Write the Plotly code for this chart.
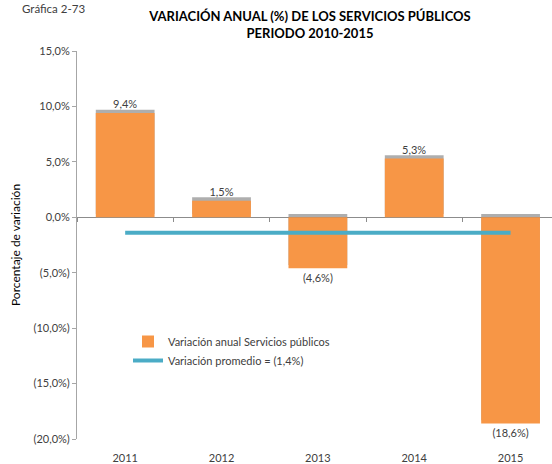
import plotly.graph_objects as go

# Annual variation of public utilities, 2011-2015
years = ["2011", "2012", "2013", "2014", "2015"]
variation = [9.4, 1.5, -4.6, 5.3, -18.6]
average = -1.4

y_ticks = [15, 10, 5, 0, -5, -10, -15, -20]


def pct(v):
    s = f"{abs(v):.1f}".replace(".", ",") + "%"
    return f"({s})" if v < 0 else s


bar_text = [pct(v) for v in variation]
y_tick_text = [pct(v) for v in y_ticks]

FONT = "Lato"
TXT = "#404040"
ORANGE = "#F79646"
BLUE = "#4BACC6"
GRID = "#A6A6A6"
BAR_W = 0.61

fig = go.Figure()

# soft drop shadow sitting slightly above each bar
shadow_shift = 0.3
fig.add_trace(go.Bar(
    x=years, y=variation, base=shadow_shift, width=BAR_W,
    marker=dict(color="rgba(120,120,120,0.6)", line=dict(width=0)),
    showlegend=False, hoverinfo="skip",
))

fig.add_trace(go.Bar(
    x=years, y=variation, width=BAR_W, name="Variación anual Servicios públicos",
    marker=dict(color=ORANGE, line=dict(width=0)),
    text=bar_text, textposition="outside", cliponaxis=False,
    textfont=dict(family=FONT, size=11, color=TXT),
))

fig.add_trace(go.Scatter(
    x=years, y=[average] * len(years), mode="lines",
    name="Variación promedio = " + pct(average),
    line=dict(color=BLUE, width=4), xaxis="x2",
))

x_range = [-0.5, 4.43]

fig.update_layout(
    width=552, height=464,
    margin=dict(l=77, r=0, t=51, b=25),
    paper_bgcolor="white", plot_bgcolor="white",
    barmode="overlay",
    font=dict(family=FONT, size=11, color=TXT),
    title=dict(
        text="<b>VARIACIÓN ANUAL (%) DE LOS SERVICIOS PÚBLICOS<br>PERIODO 2010-2015</b>",
        x=310 / 552, xanchor="center", y=1 - 21 / 464, yanchor="middle",
        font=dict(family=FONT, size=13, color="#000000"),
    ),
    xaxis=dict(
        type="category", range=x_range, showline=False, showgrid=False,
        ticks="", ticklabelstandoff=11,
        tickfont=dict(family=FONT, size=11, color=TXT),
        zeroline=False,
    ),
    xaxis2=dict(
        type="category", overlaying="x", anchor="free", position=20 / 35,
        range=x_range, showline=True, linecolor="#8C8C8C", linewidth=1,
        ticks="outside", tickson="boundaries", ticklen=4, tickcolor="#8C8C8C",
        showticklabels=False, showgrid=False, layer="below traces",
    ),
    yaxis=dict(
        range=[-20, 15], tickvals=y_ticks, ticktext=y_tick_text,
        showgrid=False, zeroline=False, showline=True, linecolor=GRID,
        ticks="outside", ticklen=4, tickcolor=GRID,
        tickfont=dict(family=FONT, size=11, color=TXT),
        title=dict(text="Porcentaje de variación", standoff=10,
                   font=dict(family=FONT, size=12, color="#000000")),
    ),
    legend=dict(
        x=(128 - 77) / 475, y=(439 - 327) / 388, xanchor="left", yanchor="top",
        bgcolor="rgba(0,0,0,0)", tracegroupgap=0,
        font=dict(family=FONT, size=11, color=TXT),
    ),
    annotations=[dict(
        text="Gráfica 2-73", xref="paper", yref="paper",
        x=-57 / 475, y=1 + 42 / 388, xanchor="left", yanchor="middle",
        showarrow=False, font=dict(family=FONT, size=11.5, color=TXT),
    )],
)
# shift the small caption to its left offset
fig.layout.annotations[0].x = (20 - 77) / 475

fig.write_html("out.html")
